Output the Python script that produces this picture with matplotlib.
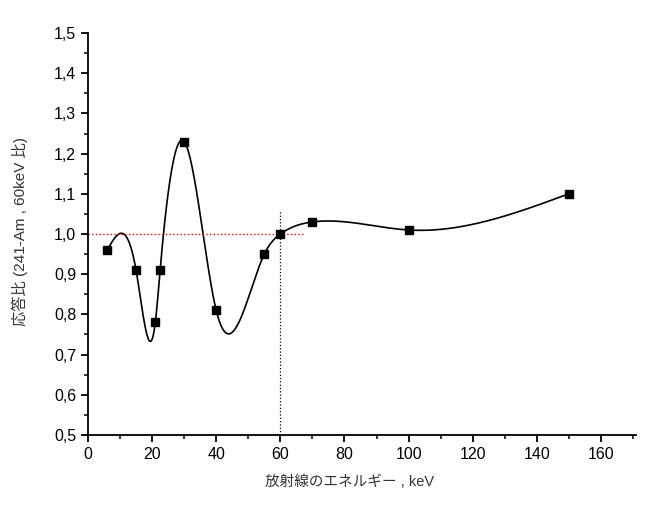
import numpy as np
import matplotlib
matplotlib.use('Agg')
import matplotlib.pyplot as plt
from matplotlib.ticker import MultipleLocator, FuncFormatter

plt.rcParams['font.family'] = ['Liberation Sans', 'Noto Sans CJK JP', 'DejaVu Sans']

# data
energy_kev = [6, 15, 21, 22.5, 30, 40, 55, 60, 70, 100, 150]
response_ratio = [0.96, 0.91, 0.78, 0.91, 1.23, 0.81, 0.95, 1.00, 1.03, 1.01, 1.10]


def natural_spline(x, y, n=800):
    x = np.asarray(x, float)
    y = np.asarray(y, float)
    k = len(x)
    h = np.diff(x)
    A = np.zeros((k, k))
    b = np.zeros(k)
    A[0, 0] = A[-1, -1] = 1
    for i in range(1, k - 1):
        A[i, i - 1] = h[i - 1]
        A[i, i] = 2 * (h[i - 1] + h[i])
        A[i, i + 1] = h[i]
        b[i] = 3 * ((y[i + 1] - y[i]) / h[i] - (y[i] - y[i - 1]) / h[i - 1])
    c = np.linalg.solve(A, b)
    xs = np.linspace(x[0], x[-1], n)
    idx = np.clip(np.searchsorted(x, xs) - 1, 0, k - 2)
    dx = xs - x[idx]
    bb = (y[idx + 1] - y[idx]) / h[idx] - h[idx] * (2 * c[idx] + c[idx + 1]) / 3
    d = (c[idx + 1] - c[idx]) / (3 * h[idx])
    ys = y[idx] + bb * dx + c[idx] * dx ** 2 + d * dx ** 3
    return xs, ys


fig = plt.figure(figsize=(6.45, 5.16), dpi=100)
ax = fig.add_axes([0.1364, 0.157, 0.85, 0.779])

xs, ys = natural_spline(energy_kev, response_ratio)
ax.plot(xs, ys, color='black', lw=1.2)
ax.plot(energy_kev, response_ratio, 's', color='black', ms=6, zorder=3)

ax.plot([0, 67], [1.0, 1.0], color='red', ls=':', lw=1)
ax.plot([60, 60], [0.5, 1.057], color='black', ls=':', lw=0.9)

ax.set_xlim(0, 171)
ax.set_ylim(0.5, 1.5)
ax.xaxis.set_major_locator(MultipleLocator(20))
ax.xaxis.set_minor_locator(MultipleLocator(10))
ax.yaxis.set_major_locator(MultipleLocator(0.1))
ax.yaxis.set_minor_locator(MultipleLocator(0.05))
ax.yaxis.set_major_formatter(FuncFormatter(lambda v, p: f'{v:.1f}'.replace('.', ',')))

for s in ['top', 'right']:
    ax.spines[s].set_visible(False)
for s in ['left', 'bottom']:
    ax.spines[s].set_linewidth(1.3)
ax.tick_params(which='major', direction='out', length=5, width=1.3, labelsize=11.5)
ax.tick_params(which='minor', direction='out', length=3, width=1.1)

ax.set_xlabel('放射線のエネルギー , keV', fontsize=10.5, color='#333333', va='center')
ax.set_ylabel('応答比 (241-Am , 60keV 比)', fontsize=11, color='#333333', va='center')
ax.xaxis.set_label_coords(0.478, -0.117)
ax.yaxis.set_label_coords(-0.124, 0.505)

fig.savefig('out.png', dpi=100)
